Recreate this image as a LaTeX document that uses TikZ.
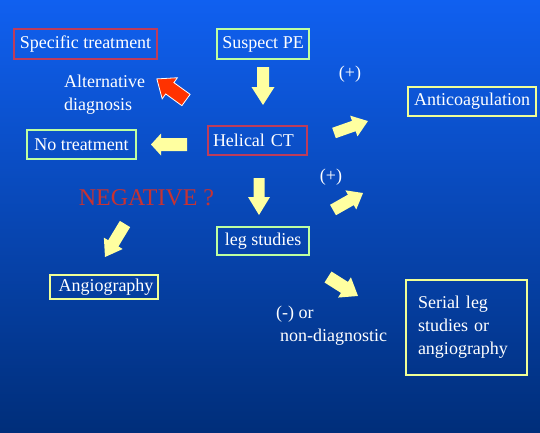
\documentclass[tikz,border=0pt]{standalone}
\usepackage{fontspec}
\setmainfont{Liberation Serif}
\definecolor{bgtop}{RGB}{16,96,240}
\definecolor{bgmid}{RGB}{0,76,206}
\definecolor{bgbot}{RGB}{0,46,122}
\definecolor{redb}{RGB}{190,60,90}
\definecolor{greenb}{RGB}{190,255,160}
\definecolor{yellowb}{RGB}{240,255,150}
\definecolor{arrowyellow}{RGB}{255,255,160}
\definecolor{arrowred}{RGB}{255,50,0}
\definecolor{negred}{RGB}{200,50,50}
\newcommand{\barr}[7]{\path[#7,shift={#1},rotate=#2] (0,-#4) -- ({#3-#6},-#4) -- ({#3-#6},-#5) -- (#3,0) -- ({#3-#6},#5) -- ({#3-#6},#4) -- (0,#4) -- cycle;}
\begin{document}
\begin{tikzpicture}[x=1pt,y=-1pt,
  box/.style={draw, line width=1.2pt, text=white, font=\fontsize{18}{23}\selectfont, inner sep=0pt},
  lbl/.style={text=white, font=\fontsize{18}{23}\selectfont, inner sep=0pt},
  yarr/.style={fill=arrowyellow},
  rarr/.style={fill=arrowred, draw=white, line width=0.8pt, line join=miter}]
\useasboundingbox (0,0) rectangle (540,432);
\shade[top color=bgtop, middle color=bgmid, bottom color=bgbot] (0,0) rectangle (540,432);

% boxes
\node[box, draw=redb, minimum width=143pt, minimum height=30pt] (spec) at (85.5,44) {Specific treatment};
\node[box, draw=greenb, minimum width=92pt, minimum height=30pt] (susp) at (263,44) {Suspect PE};
\node[box, draw=yellowb, minimum width=128pt, minimum height=29pt] (anti) at (472,101.5) {Anticoagulation};
\node[box, draw=greenb, minimum width=109pt, minimum height=29pt] (notr) at (81.5,144.5) {No treatment};
\node[box, draw=redb, inner xsep=5pt, text width=89pt, align=left, minimum height=29pt] (hct) at (257.5,140.5) {Helical CT};
\node[box, draw=greenb, minimum width=92pt, minimum height=28pt] (leg) at (263,241) {leg studies};
\node[box, draw=yellowb, minimum width=108pt, minimum height=24pt] (angio) at (104,287) {\hspace{4pt}Angiography};
\node[box, draw=yellowb, inner xsep=12pt, text width=97pt, align=left, minimum height=95pt] (serial) at (466.5,327.5) {Serial leg\\studies or\\angiography};

% labels
\node[lbl, anchor=west, align=left] (alt) at (64,94.5) {Alternative\\diagnosis};
\node[lbl] (plus1) at (350,74) {(+)};
\node[lbl] (plus2) at (331,177) {(+)};
\node[lbl, anchor=west, align=left] (neg) at (276,325.5) {(-) or\\\hspace{4pt}non-diagnostic};
\node[inner sep=0pt, text=negred, font=\fontsize{24}{28}\selectfont] (negq) at (146.5,198) {NEGATIVE ?};

% block arrows
\coordinate (t1) at (263,67);
\coordinate (t2) at (186,100);
\coordinate (t3) at (187,144.5);
\coordinate (t4) at (334,133);
\coordinate (t5) at (259,178);
\coordinate (t6) at (333,210);
\coordinate (t7) at (125,224);
\coordinate (t8) at (328,277);
\barr{(t1)}{-90}{38}{6}{11.5}{18}{yarr}
\barr{(t2)}{144.1}{36}{7}{13}{16}{rarr}
\barr{(t3)}{180}{36}{6.5}{11}{10}{yarr}
\barr{(t4)}{19.4}{36}{5.5}{11}{15}{yarr}
\barr{(t5)}{-90}{37}{5.5}{11}{18}{yarr}
\barr{(t6)}{29.5}{34.5}{6}{11}{14}{yarr}
\barr{(t7)}{-121.2}{38.6}{6}{11}{16}{yarr}
\barr{(t8)}{-32.3}{35.5}{6.5}{12}{16}{yarr}
\end{tikzpicture}
\end{document}
